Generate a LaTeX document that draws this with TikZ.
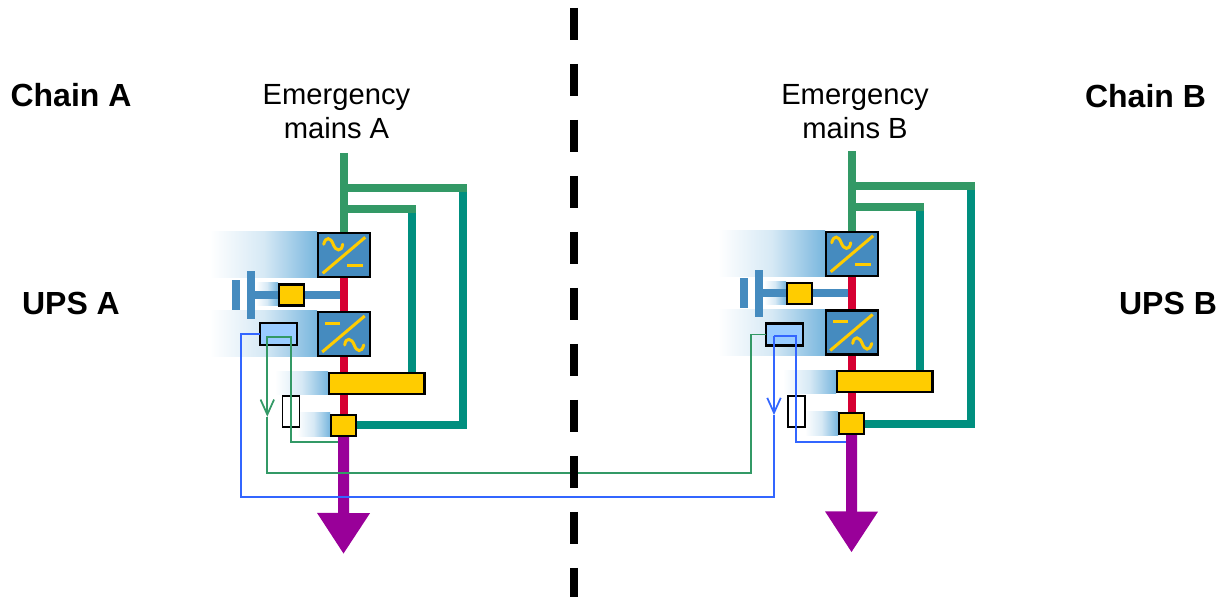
\documentclass[tikz,border=0pt]{standalone}
\usepackage{fontspec}
\setmainfont{Liberation Sans}
\usetikzlibrary{arrows.meta,positioning,backgrounds}
\definecolor{mainsgreen}{HTML}{339966}
\definecolor{bypassteal}{HTML}{008F7F}
\definecolor{dcred}{HTML}{D60032}
\definecolor{loadpurple}{HTML}{990099}
\definecolor{convblue}{HTML}{458BBF}
\definecolor{glowblue}{HTML}{78B6DE}
\definecolor{swyellow}{HTML}{FFCC00}
\definecolor{ctrlblue}{HTML}{99CCFF}
\definecolor{linkblue}{HTML}{3366FF}
\pgfdeclarehorizontalshading{glowfade}{100bp}{color(0bp)=(white); color(25bp)=(white); color(50bp)=(glowblue!30!white); color(75bp)=(glowblue); color(100bp)=(glowblue)}
\tikzset{
  conv/.style={rectangle, draw=black, line width=1.3pt, fill=convblue, minimum width=1.04cm, minimum height=.88cm, inner sep=0, outer sep=0},
  switch/.style={rectangle, draw=black, line width=1.3pt, fill=swyellow, inner sep=0, outer sep=0},
  ctrl/.style={rectangle, draw=black, line width=1.3pt, fill=ctrlblue, minimum width=.74cm, minimum height=.44cm, inner sep=0, outer sep=0},
  fuse/.style={rectangle, draw=black, line width=.8pt, fill=white, minimum width=.34cm, minimum height=.62cm, inner sep=0, outer sep=0},
  plate/.style={rectangle, fill=convblue, inner sep=0, outer sep=0},
  glow/.style={shading=glowfade, draw=none},
  mains/.style={draw=mainsgreen, line width=.16cm},
  bypass/.style={draw=bypassteal, line width=.16cm, line join=miter},
  link/.style={line width=1pt, line join=miter},
  title/.style={font=\fontsize{18.2}{22}\selectfont\bfseries, inner sep=0},
  supply/.style={font=\fontsize{16.6}{19.3}\selectfont, align=center, inner sep=0},
  acdc/.pic={
    \draw[draw=swyellow, line width=.06cm] (-21,18) -- (21.5,-18);
    \draw[draw=swyellow, line width=.06cm] (3.5,10.7) -- (19,10.7);
    \draw[draw=swyellow, line width=.06cm, line cap=round] (-20,-11) .. controls (-18,-19) and (-13,-18) .. (-10.5,-11) .. controls (-8,-4) and (-2,-3) .. (-1,-11);
  }
}
% one UPS chain, #1 is the name prefix, #2 the shift
\newcommand{\upschain}[2]{
\begin{scope}[shift={(#2)}]
  \coordinate (#1top) at (343.7,153);
  \coordinate (#1tip) at (343.5,554);
  \coordinate (#1upper) at (343.7,188);
  \coordinate (#1lower) at (343.7,209);
  \coordinate (#1far) at (462.6,188);
  \coordinate (#1near) at (411.6,209);
  \node[conv] (#1rect) at (343.7,255.3) {};
  \node[conv, below=.694cm of #1rect] (#1inv) {};
  \node[switch, minimum width=1.914cm, minimum height=.42cm, below=.336cm of #1inv, xshift=.66cm] (#1bar) {};
  \node[switch, minimum width=.5cm, minimum height=.42cm, below=.42cm of #1inv |- #1bar.south, anchor=north] (#1static) {};
  \node[switch, minimum width=.5cm, minimum height=.42cm] (#1batsw) at (291.7,295) {};
  \node[plate, minimum width=.16cm, minimum height=.96cm] (#1platel) at (251.3,295) {};
  \node[plate, minimum width=.16cm, minimum height=.6cm] (#1plates) at (236.3,295) {};
  \coordinate (#1join) at (#1rect |- #1batsw);
  \pic at (#1rect) {acdc};
  \pic[rotate=180] at (#1inv) {acdc};
  \begin{scope}[on background layer]
    \shade[glow] (210,232) rectangle (317,278);
    \shade[glow] (210,311) rectangle (317,357);
    \shade[glow] (256,283) rectangle (278,306);
    \shade[glow] (275,372) rectangle (328,395);
    \shade[glow] (297,413) rectangle (330,437);
    % connections
    \draw[draw=convblue, line width=.16cm] (#1platel) -- (#1batsw) (#1batsw) -- (#1join);
    \draw[draw=dcred, line width=.16cm] (#1rect.south) -- (#1inv.north) (#1inv.south) -- (#1static.north);
    \draw[bypass] (#1far) |- (#1static.east);
    \draw[bypass] (#1near) -- (#1near |- #1bar.north);
    \draw[mains] (#1top) -- (#1rect.north);
    \draw[mains] (#1upper) -- (466.7,188);
    \draw[mains] (#1lower) -- (416,209);
    \draw[draw=loadpurple, line width=.22cm, -{Triangle[width=1cm,length=.82cm]}] (#1static.south) -- (#1tip);
  \end{scope}
\end{scope}
}
\begin{document}
\begin{tikzpicture}[x=.02cm, y=-.02cm]
\useasboundingbox (0,0) rectangle (1224,597);
\upschain{a}{0,0}
\upschain{b}{508,-1.5}
\node[ctrl] (actrl) at (278.8,334) {};
\node[ctrl] (bctrl) at (784.5,334.5) {};
\node[fuse] (afuse) at (291,411.7) {};
\node[fuse] (bfuse) at (796.5,411.7) {};
\coordinate (atap) at (338,442);
\coordinate (btap) at (846,442);
\coordinate (agreen) at (267.3,416.7);
\coordinate (bblue) at (774,415);
% cross links between the chains
\draw[link, draw=mainsgreen, -{Straight Barb[length=.3cm,width=.27cm]}] (atap) -| (290.7,337.3) -| (agreen);
\draw[link, draw=mainsgreen] (agreen) |- (751.3,472.7) |- (bctrl.west);
\draw[link, draw=linkblue] (actrl.west) -| (241,497.3) -| (bblue);
\draw[link, draw=linkblue, -{Straight Barb[length=.3cm,width=.27cm]}] (774,335.7) -- (bblue);
\draw[link, draw=linkblue] (774,335.7) -| (796,442) -- (btap);
\coordinate (sepa) at (574,8);
\coordinate (sepb) at (574,597);
\draw[line width=.16cm, dash pattern=on .64cm off .48cm] (sepa) -- (sepb);
\node[title] (chaina) at (71,95) {Chain A};
\node[title] (chainb) at (1145.5,96) {Chain B};
\node[title] (upsa) at (71,303) {UPS A};
\node[title] (upsb) at (1168,303) {UPS B};
\node[supply] (mainsa) at (336.5,112) {Emergency\\mains A};
\node[supply] (mainsb) at (855,112) {Emergency\\mains B};
\end{tikzpicture}
\end{document}
